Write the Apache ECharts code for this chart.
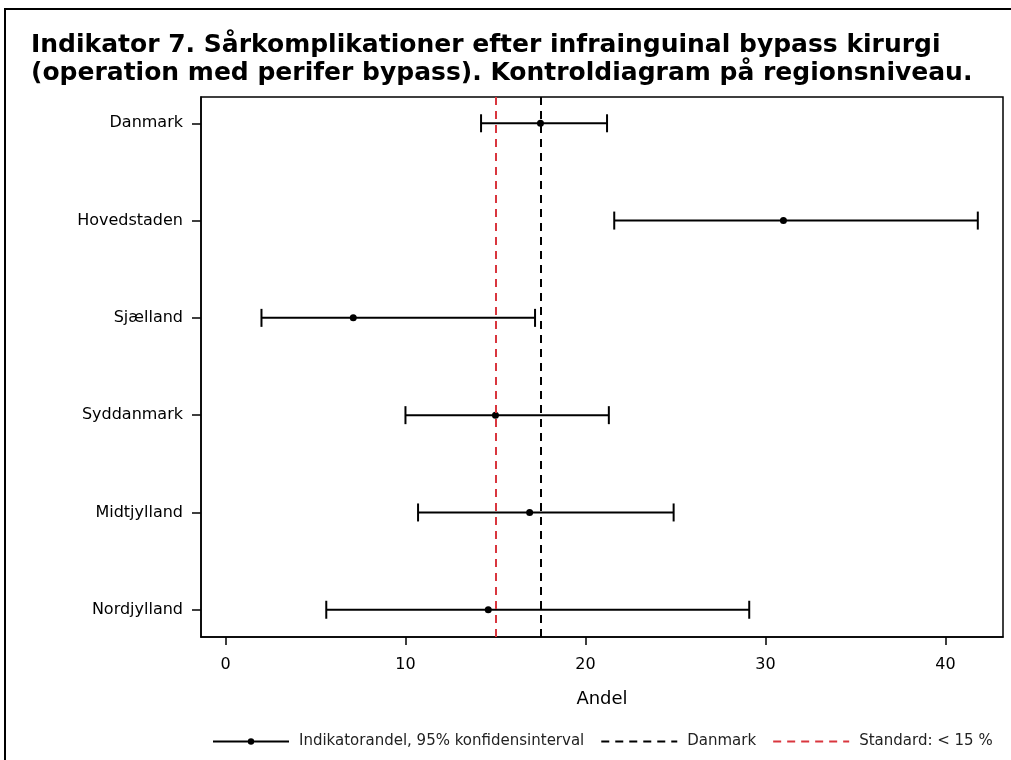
<!DOCTYPE html>
<html>
<head>
<meta charset="utf-8">
<script src="https://cdn.jsdelivr.net/npm/echarts@6/dist/echarts.min.js"></script>
<style>
  html, body { margin: 0; padding: 0; background: #fff; }
  #chart { width: 1011px; height: 760px; }
</style>
</head>
<body>
<div id="chart"></div>
<script>
// regions, top to bottom
const regions = ['Danmark', 'Hovedstaden', 'Sjælland', 'Syddanmark', 'Midtjylland', 'Nordjylland'];
// indicator share (%) and 95% CI
const andel = [17.5, 31.0, 7.1, 15.0, 16.9, 14.6];
const lower = [14.2, 21.6, 2.0, 10.0, 10.7, 5.6];
const upper = [21.2, 41.8, 17.2, 21.3, 24.9, 29.1];
// reference lines
const danmarkLine = 17.5;
const standardLine = 15;
const xTicks = [0, 10, 20, 30, 40];
const yTicks = [0, 1, 2, 3, 4, 5];

const FONT = 'DejaVu Sans';
const chart = echarts.init(document.getElementById('chart'));

const ciData = regions.map((r, i) => [i, lower[i], upper[i]]);
const pointData = regions.map((r, i) => [andel[i], i]);

// horizontal error bar with end caps
function renderCI(params, api) {
  const y = api.value(0);
  const p1 = api.coord([api.value(1), y]);
  const p2 = api.coord([api.value(2), y]);
  const h = 9;
  const style = { stroke: '#000', lineWidth: 2 };
  return {
    type: 'group',
    children: [
      { type: 'line', shape: { x1: p1[0], y1: p1[1], x2: p2[0], y2: p2[1] }, style },
      { type: 'line', shape: { x1: p1[0], y1: p1[1] - h, x2: p1[0], y2: p1[1] + h }, style },
      { type: 'line', shape: { x1: p2[0], y1: p2[1] - h, x2: p2[0], y2: p2[1] + h }, style }
    ]
  };
}

const ciName = 'Indikatorandel, 95% konfidensinterval';
const dkName = 'Danmark';
const stdName = 'Standard: < 15 %';
const dash = [8, 6];
const red = '#d9363e';

chart.setOption({
  backgroundColor: '#fff',
  animation: false,
  textStyle: { fontFamily: FONT },
  title: {
    text: 'Indikator 7. Sårkomplikationer efter infrainguinal bypass kirurgi\n(operation med perifer bypass). Kontroldiagram på regionsniveau.',
    left: 26,
    top: 26,
    textStyle: { fontFamily: FONT, fontSize: 25, fontWeight: 'bold', color: '#000', lineHeight: 28 }
  },
  graphic: [{
    type: 'rect',
    shape: { x: 5, y: 9, width: 1100, height: 900 },
    style: { fill: 'none', stroke: '#000', lineWidth: 2 },
    silent: true
  }],
  grid: {
    left: 201, right: 8, top: 97, bottom: 123,
    show: true, borderColor: '#000', borderWidth: 1.5, backgroundColor: 'transparent'
  },
  legend: {
    left: 207,
    top: 729,
    itemWidth: 76,
    itemHeight: 8,
    itemGap: 16,
    textStyle: { fontFamily: FONT, fontSize: 15, color: '#222', padding: [0, 0, 0, 5] },
    data: [
      { name: ciName, lineStyle: { opacity: 1, width: 2, color: '#000' }, itemStyle: { color: '#000' } },
      { name: dkName, itemStyle: { opacity: 0 } },
      { name: stdName, itemStyle: { opacity: 0 } }
    ]
  },
  xAxis: {
    type: 'value',
    min: -1.36,
    max: 43.2,
    name: 'Andel',
    nameLocation: 'middle',
    nameGap: 53,
    nameTextStyle: { fontFamily: FONT, fontSize: 18, color: '#000' },
    axisLine: { show: true, onZero: false, lineStyle: { color: '#000', width: 1.5 } },
    axisTick: { show: true, customValues: xTicks, length: 8, lineStyle: { color: '#000', width: 1.5 } },
    axisLabel: { customValues: xTicks, fontSize: 16, color: '#000', margin: 20 },
    splitLine: { show: false }
  },
  yAxis: {
    type: 'value',
    inverse: true,
    min: -0.27,
    max: 5.28,
    axisLine: { show: true, onZero: false, lineStyle: { color: '#000', width: 1.5 } },
    axisTick: { show: true, customValues: yTicks, length: 9, lineStyle: { color: '#000', width: 1.5 } },
    axisLabel: {
      customValues: yTicks,
      formatter: v => regions[Math.round(v)],
      fontSize: 16, color: '#000', margin: 18
    },
    splitLine: { show: false }
  },
  series: [
    {
      name: ciName,
      type: 'line',
      data: pointData,
      symbol: 'circle',
      symbolSize: 7,
      itemStyle: { color: '#000' },
      lineStyle: { opacity: 0 },
      z: 3,
      silent: true
    },
    {
      name: ciName,
      type: 'custom',
      renderItem: renderCI,
      encode: { x: [1, 2], y: 0 },
      data: ciData,
      z: 2,
      silent: true
    },
    {
      name: dkName,
      type: 'line',
      data: [],
      symbol: 'none',
      lineStyle: { color: '#000', width: 2, type: dash },
      markLine: {
        silent: true,
        symbol: 'none',
        label: { show: false },
        lineStyle: { color: '#000', width: 2, type: dash },
        data: [{ xAxis: danmarkLine }]
      },
      z: 4
    },
    {
      name: stdName,
      type: 'line',
      data: [],
      symbol: 'none',
      lineStyle: { color: red, width: 2, type: dash },
      markLine: {
        silent: true,
        symbol: 'none',
        label: { show: false },
        lineStyle: { color: red, width: 2, type: dash },
        data: [{ xAxis: standardLine }]
      },
      z: 4
    }
  ]
});
</script>
</body>
</html>
